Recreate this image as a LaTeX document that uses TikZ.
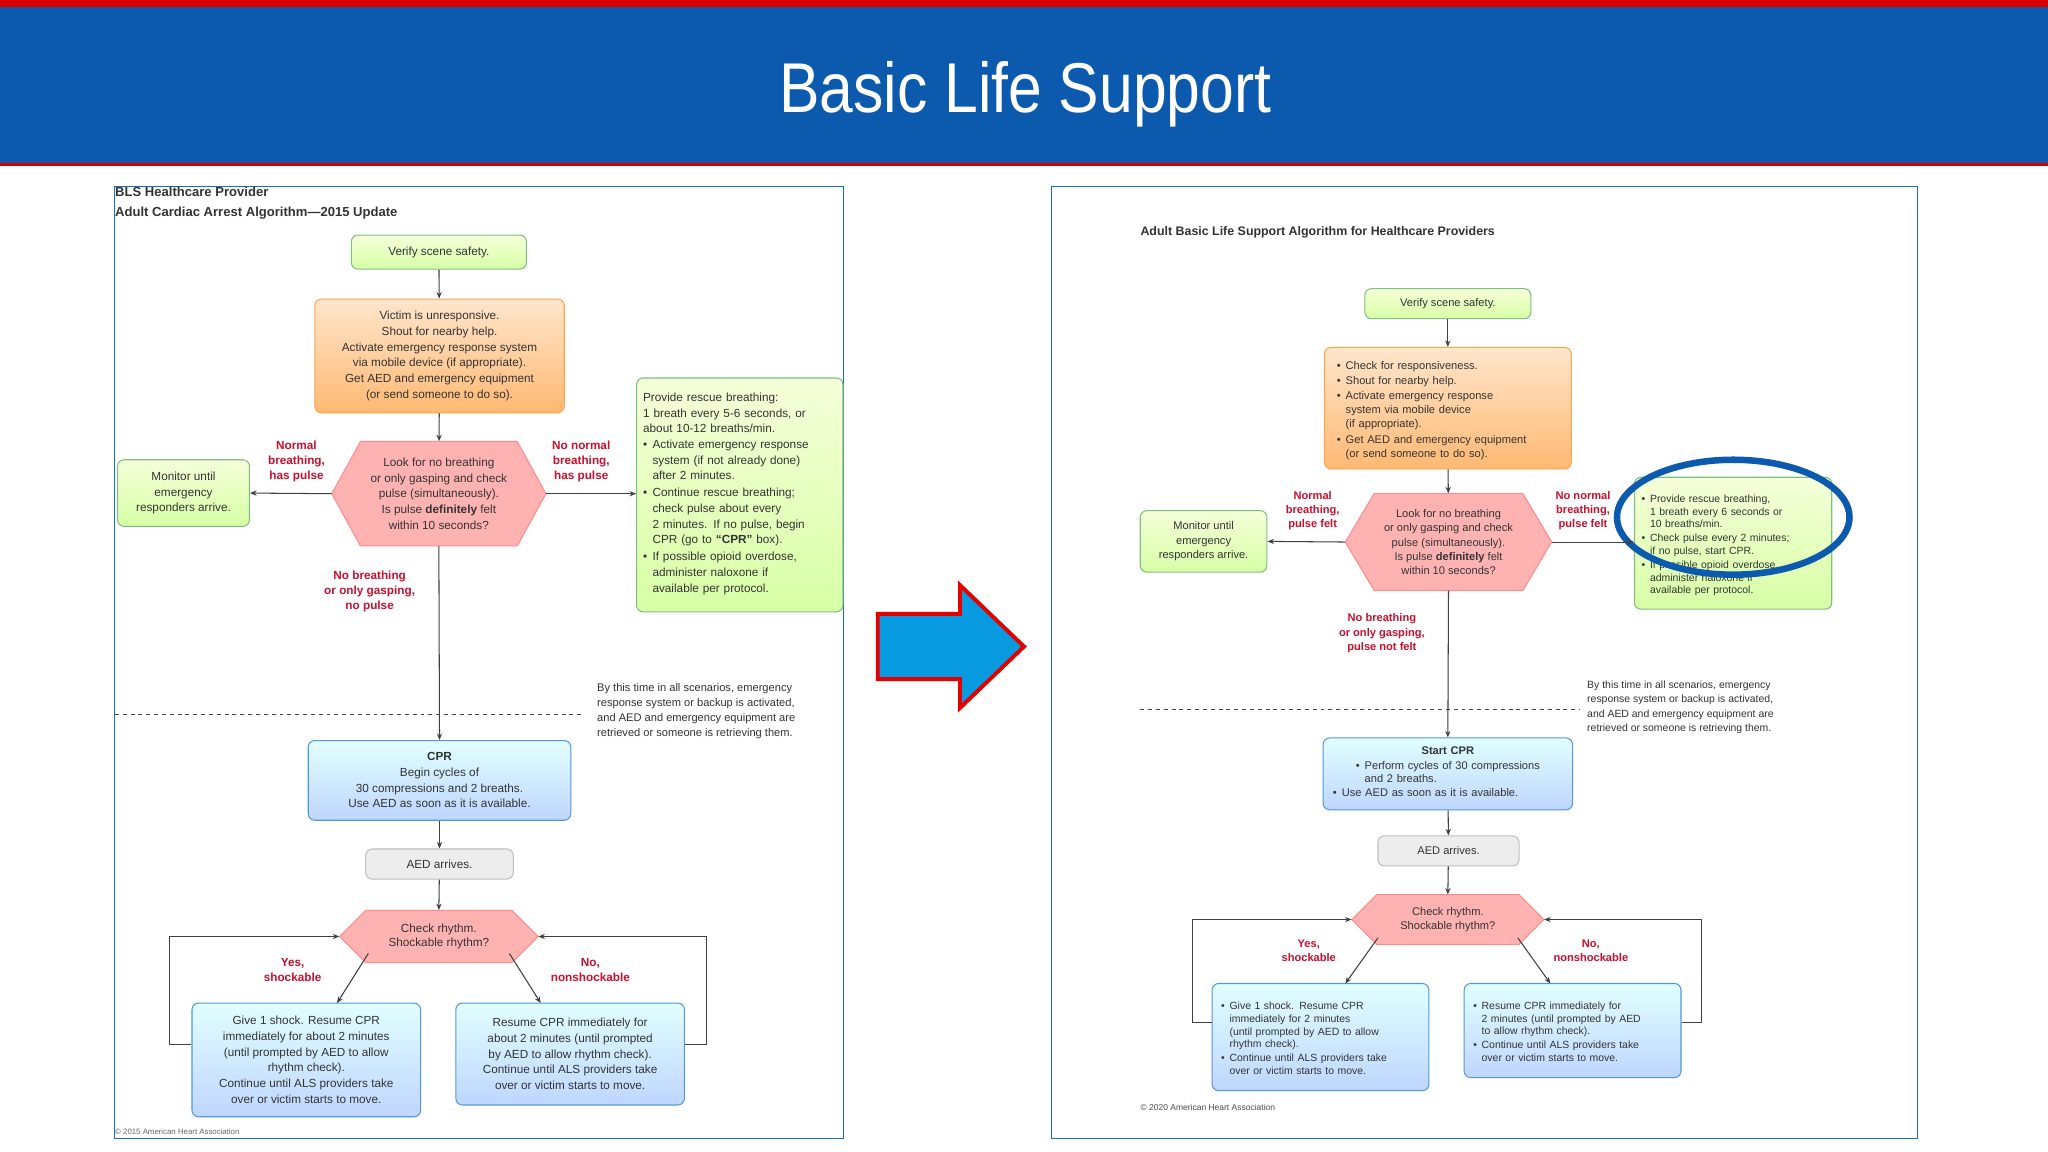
\documentclass[tikz,border=0pt]{standalone}
\usepackage{fontspec}
\setmainfont{Liberation Sans}
\usetikzlibrary{calc,arrows.meta}
\definecolor{banner}{HTML}{0B5AAE}
\definecolor{lred}{HTML}{C8102E}
\newcommand\bitem[1]{\par\noindent\makebox[0.8em][l]{\textbullet}\begin{tabular}[t]{@{}l@{}}#1\end{tabular}}
\begin{document}
\begin{tikzpicture}[x=1pt,y=-1pt,
  every node/.style={inner sep=2pt,text=black!80},
  box/.style={rounded corners=5pt,draw,line width=0.8pt,align=center,font=\fontsize{9}{12}\selectfont},
  gbox/.style={box,draw=green!50!black!50,top color=green!25!yellow!15,bottom color=green!45!yellow!35!white},
  obox/.style={box,draw=orange!70,top color=orange!20,bottom color=orange!55},
  bbox/.style={box,draw=cyan!60!blue!70,top color=cyan!12,bottom color=cyan!35!blue!25},
  ebox/.style={box,draw=black!25,fill=black!7},
  hex/.style={fill=red!30,draw=red!45,line width=0.8pt},
  lab/.style={text=lred,font=\bfseries\fontsize{9}{11.5}\selectfont,align=center},
  arr/.style={-{Stealth[length=5pt,width=4pt]},line width=0.8pt,black!75},
  note/.style={align=left,font=\fontsize{8.5}{11.5}\selectfont}]
\useasboundingbox (0,0) rectangle (1568,882);
\fill[white] (0,0) rectangle (1568,882);
% banner
\fill[red!85!black] (0,0) rectangle (1568,5);
\fill[banner] (0,5) rectangle (1568,125);
\fill[red!85!black] (0,125) rectangle (1568,127);
\node[text=white,font=\fontsize{54}{60}\selectfont,xscale=0.86] (title) at (785,72) {Basic Life Support};
% frames
\draw[cyan!50!blue,line width=0.8pt] (88,143) rectangle (646,872);
\draw[cyan!50!blue,line width=0.8pt] (805,143) rectangle (1468,872);
% big arrow
\draw[red!90!black,line width=3pt,fill=cyan!85!blue,line join=miter]
 (672,470) -- (735,470) -- (735,448) -- (784,495) -- (735,542) -- (735,520) -- (672,520) -- cycle;

%%%%% LEFT
\node[anchor=north west,inner sep=0,font=\bfseries\fontsize{10}{15}\selectfont,align=left] (lt) at (88,143) {BLS Healthcare Provider\\Adult Cardiac Arrest Algorithm—2015 Update};
\node[gbox,minimum width=134,minimum height=26] (lv) at (336,193) {Verify scene safety.};
\node[obox,minimum width=191,minimum height=87] (lo) at (336.5,272.5) {Victim is unresponsive.\\Shout for nearby help.\\Activate emergency response system\\via mobile device (if appropriate).\\Get AED and emergency equipment\\(or send someone to do so).};
\fill[hex] (254,378) -- (276,338) -- (396,338) -- (418,378) -- (396,418) -- (276,418) -- cycle;
\node[minimum width=164,minimum height=80,align=center,font=\fontsize{9}{12}\selectfont] (lh) at (336,378) {Look for no breathing\\or only gasping and check\\pulse (simultaneously).\\Is pulse \textbf{definitely} felt\\within 10 seconds?};
\node[gbox,minimum width=101,minimum height=51] (lm) at (140.5,377.5) {Monitor until\\emergency\\responders arrive.};
\node[gbox,minimum width=158,minimum height=179,text width=148,align=left,anchor=north west] (lr) at (487,289) {Provide rescue breathing:\\1 breath every 5-6 seconds, or\\about 10-12 breaths/min.\bitem{Activate emergency response\\system (if not already done)\\after 2 minutes.}\bitem{Continue rescue breathing;\\check pulse about every\\2 minutes. If no pulse, begin\\CPR (go to \textbf{“CPR”} box).}\bitem{If possible opioid overdose,\\administer naloxone if\\available per protocol.}};
\node[lab] (ll1) at (227,353) {Normal\\breathing,\\has pulse};
\node[lab] (ll2) at (445,353) {No normal\\breathing,\\has pulse};
\node[lab] (ll3) at (283,453) {No breathing\\or only gasping,\\no pulse};
\draw[dashed,black!70,line width=0.8pt] (88,547) -- (445,547);
\node[note,anchor=north west] (ln) at (455,521) {By this time in all scenarios, emergency\\response system or backup is activated,\\and AED and emergency equipment are\\retrieved or someone is retrieving them.};
\node[bbox,minimum width=201,minimum height=61] (lc) at (336.5,597.5) {\textbf{CPR}\\Begin cycles of\\30 compressions and 2 breaths.\\Use AED as soon as it is available.};
\node[ebox,minimum width=113,minimum height=23] (la) at (336.5,661.5) {AED arrives.};
\fill[hex] (260,717) -- (280,697) -- (392,697) -- (412,717) -- (392,737) -- (280,737) -- cycle;
\node[minimum width=152,minimum height=40,align=center,font=\fontsize{9}{11}\selectfont] (lk) at (336,717) {Check rhythm.\\Shockable rhythm?};
\node[bbox,minimum width=175,minimum height=87] (ls) at (234.5,811.5) {Give 1 shock. Resume CPR\\immediately for about 2 minutes\\(until prompted by AED to allow\\rhythm check).\\Continue until ALS providers take\\over or victim starts to move.};
\node[bbox,minimum width=175,minimum height=78] (ln2) at (436.5,807) {Resume CPR immediately for\\about 2 minutes (until prompted\\by AED to allow rhythm check).\\Continue until ALS providers take\\over or victim starts to move.};
\node[lab] (ly) at (224,743) {Yes,\\shockable};
\node[lab] (lnn) at (452,743) {No,\\nonshockable};
\node[anchor=north west,inner sep=0,font=\fontsize{6}{7}\selectfont,text=black!60] (lcp) at (88,864) {© 2015 American Heart Association};
\draw[arr] (lv) -- (lo);
\draw[arr] (lo) -- (lh);
\draw[arr] (lh.west) -- (lm.east);
\draw[arr] (lh.east) -- (lr.west|-lh.east);
\draw[arr] (lh.south) -- (lc.north);
\draw[arr] (lc) -- (la);
\draw[arr] (la) -- (lk.north);
\draw[arr] (282,730) -- (258,768);
\draw[arr] (390,730) -- (414,768);
\draw[arr] (ls.west|-0,800) -- (130,800) -- (130,717) -- (lk.west);
\draw[arr] (ln2.east|-0,800) -- (541,800) -- (541,717) -- (lk.east);

%%%%% RIGHT
\node[anchor=west,inner sep=0,font=\bfseries\fontsize{9.5}{12}\selectfont] (rt) at (873,178) {Adult Basic Life Support Algorithm for Healthcare Providers};
\node[gbox,minimum width=127,minimum height=23,font=\fontsize{8.5}{11}\selectfont] (rv) at (1108.5,232.5) {Verify scene safety.};
\node[obox,minimum width=189,minimum height=93,text width=170,align=left,font=\fontsize{8.5}{11.5}\selectfont] (ro) at (1108.5,312.5) {\renewcommand\arraystretch{0.95}\bitem{Check for responsiveness.}\bitem{Shout for nearby help.}\bitem{Activate emergency response\\system via mobile device\\(if appropriate).}\bitem{Get AED and emergency equipment\\(or send someone to do so).}};
\fill[hex] (1030,415) -- (1052,378) -- (1166,378) -- (1188,415) -- (1166,452) -- (1052,452) -- cycle;
\node[minimum width=158,minimum height=74,align=center,font=\fontsize{8.5}{11}\selectfont] (rh) at (1109,415) {Look for no breathing\\or only gasping and check\\pulse (simultaneously).\\Is pulse \textbf{definitely} felt\\within 10 seconds?};
\node[gbox,minimum width=97,minimum height=47,font=\fontsize{8.5}{11}\selectfont] (rm) at (921.5,414.5) {Monitor until\\emergency\\responders arrive.};
\node[gbox,minimum width=151,minimum height=101,text width=140,align=left,anchor=north west,font=\fontsize{8}{10.5}\selectfont] (rr) at (1251,365) {\renewcommand\arraystretch{0.92}\bitem{Provide rescue breathing,\\1 breath every 6 seconds or\\10 breaths/min.}\bitem{Check pulse every 2 minutes;\\if no pulse, start CPR.}\bitem{If possible opioid overdose,\\administer naloxone if\\available per protocol.}};
\draw[banner,line width=5pt] (1327,396) ellipse [x radius=89, y radius=44];
\node[lab,font=\bfseries\fontsize{8.5}{11}\selectfont] (rl1) at (1005,391) {Normal\\breathing,\\pulse felt};
\node[lab,font=\bfseries\fontsize{8.5}{11}\selectfont] (rl2) at (1212,391) {No normal\\breathing,\\pulse felt};
\node[lab,font=\bfseries\fontsize{8.5}{11}\selectfont] (rl3) at (1058,485) {No breathing\\or only gasping,\\pulse not felt};
\draw[dashed,black!70,line width=0.8pt] (873,543) -- (1210,543);
\node[note,anchor=north west,font=\fontsize{8}{11}\selectfont] (rn) at (1213,519) {By this time in all scenarios, emergency\\response system or backup is activated,\\and AED and emergency equipment are\\retrieved or someone is retrieving them.};
\node[bbox,minimum width=191,minimum height=55,text width=176,align=left,font=\fontsize{8.5}{11}\selectfont] (rc) at (1108.5,592.5) {\renewcommand\arraystretch{0.92}\centering\textbf{Start CPR}\par\bitem{Perform cycles of 30 compressions\\and 2 breaths.}\bitem{Use AED as soon as it is available.}};
\node[ebox,minimum width=108,minimum height=23,font=\fontsize{8.5}{11}\selectfont] (ra) at (1109,651.5) {AED arrives.};
\fill[hex] (1035,704) -- (1054,685) -- (1163,685) -- (1182,704) -- (1163,723) -- (1054,723) -- cycle;
\node[minimum width=147,minimum height=38,align=center,font=\fontsize{8.5}{11}\selectfont] (rk) at (1108.5,704) {Check rhythm.\\Shockable rhythm?};
\node[bbox,minimum width=166,minimum height=82,text width=152,align=left,font=\fontsize{8}{10.5}\selectfont] (rs) at (1011,794) {\renewcommand\arraystretch{0.92}\bitem{Give 1 shock. Resume CPR\\immediately for 2 minutes\\(until prompted by AED to allow\\rhythm check).}\bitem{Continue until ALS providers take\\over or victim starts to move.}};
\node[bbox,minimum width=166,minimum height=72,text width=152,align=left,font=\fontsize{8}{10.5}\selectfont] (rn2) at (1204,789) {\renewcommand\arraystretch{0.92}\bitem{Resume CPR immediately for\\2 minutes (until prompted by AED\\to allow rhythm check).}\bitem{Continue until ALS providers take\\over or victim starts to move.}};
\node[lab,font=\bfseries\fontsize{8.5}{11}\selectfont] (ry) at (1002,728) {Yes,\\shockable};
\node[lab,font=\bfseries\fontsize{8.5}{11}\selectfont] (rnn) at (1218,728) {No,\\nonshockable};
\node[anchor=west,inner sep=0,font=\fontsize{6.5}{8}\selectfont,text=black!70] (rcp) at (873,848) {© 2020 American Heart Association};
\draw[arr] (rv) -- (ro);
\draw[arr] (ro) -- (rh);
\draw[arr] (rh.west) -- (rm.east);
\draw[arr] (rh.east) -- (rr.west|-rh.east);
\draw[arr] (rh.south) -- (rc.north);
\draw[arr] (rc) -- (ra);
\draw[arr] (ra) -- (rk.north);
\draw[arr] (1055,718) -- (1030,753);
\draw[arr] (1162,718) -- (1187,753);
\draw[arr] (rs.west|-0,783) -- (913,783) -- (913,704) -- (rk.west);
\draw[arr] (rn2.east|-0,783) -- (1303,783) -- (1303,704) -- (rk.east);
\end{tikzpicture}
\end{document}
